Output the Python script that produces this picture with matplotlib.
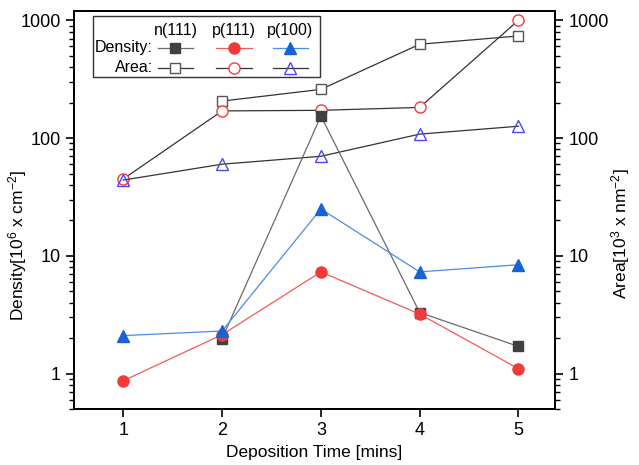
import numpy as np
import matplotlib
matplotlib.use("Agg")
import matplotlib.pyplot as plt
from matplotlib.patches import Rectangle
from matplotlib.ticker import LogLocator, NullFormatter, FixedLocator

plt.rcParams['font.family'] = ['Liberation Sans', 'DejaVu Sans']
plt.rcParams['mathtext.default'] = 'regular'

# data
time = [1, 2, 3, 4, 5]
dens_n111 = [np.nan, 1.98, 154, 3.3, 1.70]
dens_p111 = [0.87, 2.14, 7.3, 3.2, 1.10]
dens_p100 = [2.1, 2.3, 25, 7.3, 8.4]
area_n111 = [np.nan, 206, 259, 626, 736]
area_p111 = [45, 170, 172, 182, 1000]
area_p100 = [44, 60, 70, 108, 126]
col_labels = ["n(111)", "p(111)", "p(100)"]
y_ticks = [1, 10, 100, 1000]

dens_style = [
    dict(color="#6a6a6a", marker="s", mfc="#404040", mec="#404040", ms=7),
    dict(color="#f25a5a", marker="o", mfc="#f23a3a", mec="#f23a3a", ms=8),
    dict(color="#4a8ee0", marker="^", mfc="#1464d6", mec="#1464d6", ms=9),
]
area_style = [
    dict(color="#333333", marker="s", mfc="white", mec="#555555", ms=7, mew=1.0),
    dict(color="#333333", marker="o", mfc="white", mec="#f03c3c", ms=8, mew=1.0),
    dict(color="#333333", marker="^", mfc="none", mec="#4a48f0", ms=9, mew=1.0),
]

fig = plt.figure(figsize=(6.39, 4.65), dpi=100)
ax = fig.add_axes([0.1158, 0.1204, 0.7527, 0.8560])
ax2 = ax.twinx()

for ys, st in zip([dens_n111, dens_p111, dens_p100], dens_style):
    ax.plot(time, ys, lw=0.9, zorder=3, **st)
for ys, st in zip([area_n111, area_p111, area_p100], area_style):
    ax2.plot(time, ys, lw=0.9, zorder=4, **st)

for a in (ax, ax2):
    a.set_yscale("log")
    a.set_ylim(0.5, 1200)
    a.yaxis.set_major_locator(FixedLocator(y_ticks))
    a.yaxis.set_major_formatter(plt.FuncFormatter(lambda v, p: f"{v:g}"))
    a.yaxis.set_minor_locator(LogLocator(base=10, subs=np.arange(2, 10)))
    a.yaxis.set_minor_formatter(NullFormatter())
    a.tick_params(axis="y", which="major", length=6, width=1.2, labelsize=13, direction="out")
    a.tick_params(axis="y", which="minor", length=3.5, width=1.0, direction="out")
    for s in a.spines.values():
        s.set_linewidth(1.3)

ax.set_xlim(0.5, 5.37)
ax.set_xticks(time)
ax.tick_params(axis="x", length=6, width=1.2, labelsize=13, direction="out")
ax.set_xlabel("Deposition Time [mins]", fontsize=12.5)
ax.set_ylabel("Density[10$^{6}$ x cm$^{-2}$]", fontsize=12.5)
ax2.set_ylabel("Area[10$^{3}$ x nm$^{-2}$]", fontsize=12.5)
ax.yaxis.set_label_coords(-0.094, 0.41)
ax2.yaxis.set_label_coords(1.112, 0.44)
ax.set_zorder(ax2.get_zorder() + 1)
ax.patch.set_visible(False)

# table-style legend
T = ax2.transAxes
ax2.add_patch(Rectangle((0.0395, 0.834), 0.4715, 0.154, transform=T,
                        fill=True, facecolor="white", edgecolor="#333333", lw=1.0, zorder=10))
col_x = [0.211, 0.333, 0.450]
row_y = [0.907, 0.857]
for cx, lab in zip(col_x, col_labels):
    ax2.text(cx, 0.952, lab, transform=T, ha="center", va="center", fontsize=11.5, zorder=11)
ax2.text(0.164, row_y[0], "Density:", transform=T, ha="right", va="center", fontsize=11.5, zorder=11)
ax2.text(0.164, row_y[1], "Area:", transform=T, ha="right", va="center", fontsize=11.5, zorder=11)
for ry, styles in zip(row_y, [dens_style, area_style]):
    for cx, st in zip(col_x, styles):
        ax2.plot([cx - 0.037, cx + 0.037], [ry, ry], transform=T, color=st["color"], lw=0.9,
                 zorder=11, clip_on=False)
        ax2.plot([cx], [ry], transform=T, ls="none", marker=st["marker"], mfc=st["mfc"],
                 mec=st["mec"], ms=st["ms"], mew=st.get("mew", 1.0), zorder=12, clip_on=False)

fig.savefig("out.png", dpi=100)
